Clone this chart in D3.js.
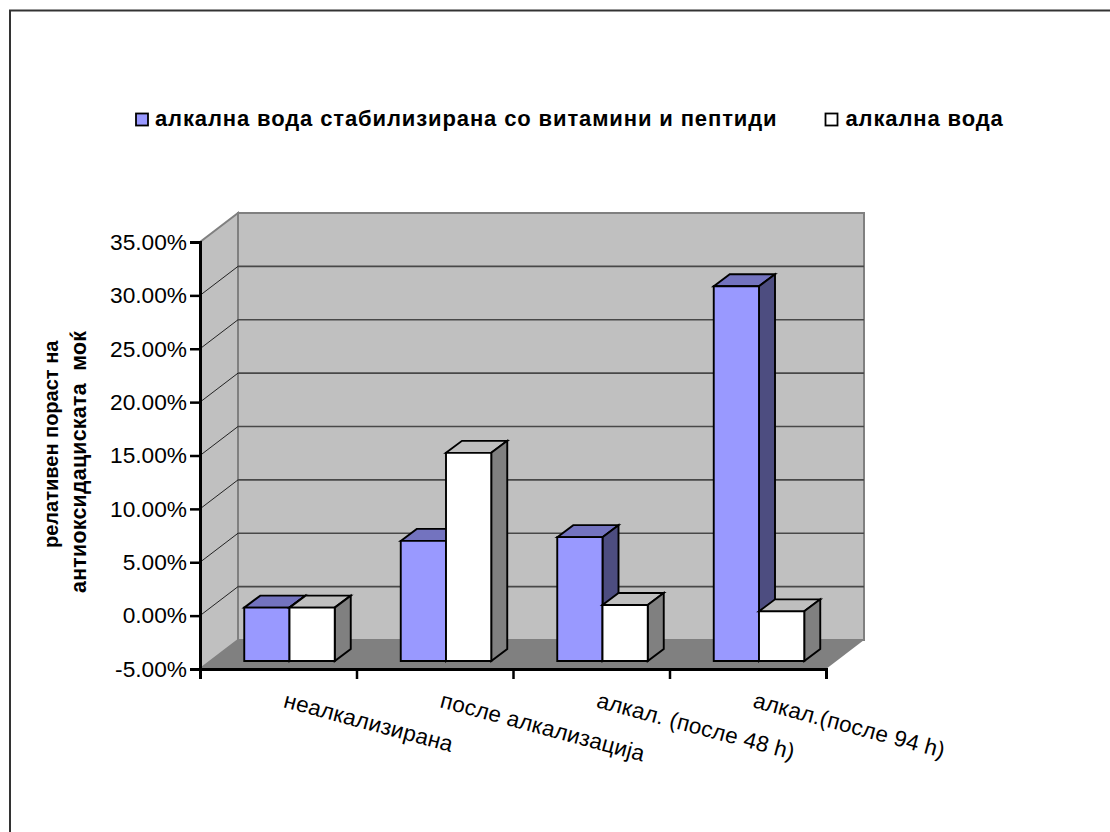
<!DOCTYPE html>
<html><head><meta charset="utf-8">
<style>html,body{margin:0;padding:0;background:#fff}svg{display:block}text{font-family:"Liberation Sans",Arial,sans-serif;fill:#000;white-space:pre}</style>
<script src="https://cdn.jsdelivr.net/npm/d3@7"></script></head><body>
<script>
const categories=["неалкализирана","после алкализација","алкал. (после 48 h)","алкал.(после 94 h)"];
const seriesNames=["алкална вода стабилизирана со витамини и пептиди","алкална вода"];
const stabilized=[0,6.25,6.6,30.1];
const alkaline=[0,14.5,0.25,-0.35];
const yTicks=[-5,0,5,10,15,20,25,30,35];
const yTitle=["релативен пораст на","антиоксидациската  моќ"];

const W=1110,H=832;
const svg=d3.select("body").append("svg").attr("width",W).attr("height",H);
svg.append("path").attr("d","M10,832V10.5H1110").attr("fill","none").attr("stroke","#333").attr("stroke-width",2);

const x=d3.scaleBand().domain(categories).range([200,826]).paddingInner(0);
const inner=d3.scaleBand().domain([0,1]).range([33,x.bandwidth()-33]);
const y=d3.scaleLinear().domain([-5,35]).range([669,242]);
const wall={dx:38,dy:-29};
const barFront={dx:11.25,dy:-8},barDepth={dx:16,dy:-12};
const base=y.domain()[0];
const poly=p=>p.map(d=>d.join(",")).join(" ");
const [x0,x1]=x.range();

// walls
svg.append("polygon").attr("points",poly([[x0+wall.dx,y(35)+wall.dy],[x1+wall.dx,y(35)+wall.dy],[x1+wall.dx,y(base)+wall.dy],[x0+wall.dx,y(base)+wall.dy]]))
 .attr("fill","#c0c0c0").attr("stroke","#808080").attr("stroke-width",2);
svg.append("polygon").attr("points",poly([[x0,y(35)],[x0+wall.dx,y(35)+wall.dy],[x0+wall.dx,y(base)+wall.dy],[x0,y(base)]]))
 .attr("fill","#c0c0c0").attr("stroke","#808080").attr("stroke-width",2);
svg.append("polygon").attr("points",poly([[x0,y(base)],[x0+wall.dx,y(base)+wall.dy],[x1+wall.dx,y(base)+wall.dy],[x1,y(base)]]))
 .attr("fill","#808080");
// gridlines
yTicks.slice(1,-1).forEach(t=>{
  svg.append("path").attr("d",`M${x0},${y(t)}L${x0+wall.dx},${y(t)+wall.dy}`).attr("stroke","#111").attr("stroke-width",0.9).attr("fill","none");
  svg.append("path").attr("d",`M${x0+wall.dx},${y(t)+wall.dy}L${x1+wall.dx},${y(t)+wall.dy}`).attr("stroke","#484848").attr("stroke-width",1.6).attr("fill","none");
});

// bars
const palettes=[{front:"#9999ff",top:"#7373bf",side:"#4d4d80"},{front:"#ffffff",top:"#bfbfbf",side:"#808080"}];
const drawBar=(cat,s,v)=>{
  const c=palettes[s];
  const L=x(cat)+inner(s)+barFront.dx, R=L+inner.bandwidth();
  const T=y(v)+barFront.dy, B=y(base)+barFront.dy;
  const dx=barDepth.dx,dy=barDepth.dy;
  const g=svg.append("g").attr("stroke","#000").attr("stroke-width",1.9).attr("stroke-linejoin","miter");
  g.append("polygon").attr("points",poly([[L,T],[L+dx,T+dy],[R+dx,T+dy],[R,T]])).attr("fill",c.top);
  g.append("polygon").attr("points",poly([[R,T],[R+dx,T+dy],[R+dx,B+dy],[R,B]])).attr("fill",c.side);
  g.append("polygon").attr("points",poly([[L,T],[R,T],[R,B],[L,B]])).attr("fill",c.front);
};
categories.forEach((cat,i)=>{drawBar(cat,0,stabilized[i]);drawBar(cat,1,alkaline[i]);});

// y axis
const yAxis=svg.append("g").attr("transform",`translate(${x0},0)`).call(d3.axisLeft(y).tickValues(yTicks).tickSize(10).tickPadding(3).tickFormat(d=>d.toFixed(2)+"%"));
yAxis.select(".domain").attr("stroke","#000").attr("stroke-width",3);
yAxis.selectAll(".tick line").attr("stroke","#000").attr("stroke-width",2.5);
yAxis.selectAll("text").attr("font-size",22.7).attr("font-family",'"Liberation Sans",Arial,sans-serif');

// x axis
const xAxis=svg.append("g").attr("transform",`translate(0,${y(base)})`).call(d3.axisBottom(d3.scaleLinear().domain([0,categories.length]).range([x0,x1])).tickValues(d3.range(categories.length+1)).tickSize(10).tickFormat(""));
xAxis.select(".domain").attr("stroke","#000").attr("stroke-width",3);
xAxis.selectAll(".tick line").attr("stroke","#000").attr("stroke-width",2.5);
categories.forEach(cat=>{
  svg.append("text").attr("transform",`translate(${x(cat)+x.bandwidth()-74},${y(base)+38}) rotate(15)`).attr("font-size",22.4).attr("letter-spacing",0.22).text(cat);
});

// y title
yTitle.forEach((t,i)=>{
  svg.append("text").attr("transform",`translate(${57.5+i*28.5},${(i==0?548:593)}) rotate(-90)`).attr("font-size",i==0?20:21.3).attr("letter-spacing",i==0?0:0.3).attr("font-weight","bold").text(t);
});

// legend
const leg=[{sx:136,tx:155},{sx:825.5,tx:845.5}];
seriesNames.forEach((n,i)=>{
  svg.append("rect").attr("x",leg[i].sx).attr("y",113.5).attr("width",12).attr("height",12).attr("fill",palettes[i].front).attr("stroke","#000").attr("stroke-width",1.8);
  svg.append("text").attr("x",leg[i].tx).attr("y",125.5).attr("font-size",22).attr("font-weight","bold").attr("letter-spacing",0.88).text(n);
});
</script></body></html>
